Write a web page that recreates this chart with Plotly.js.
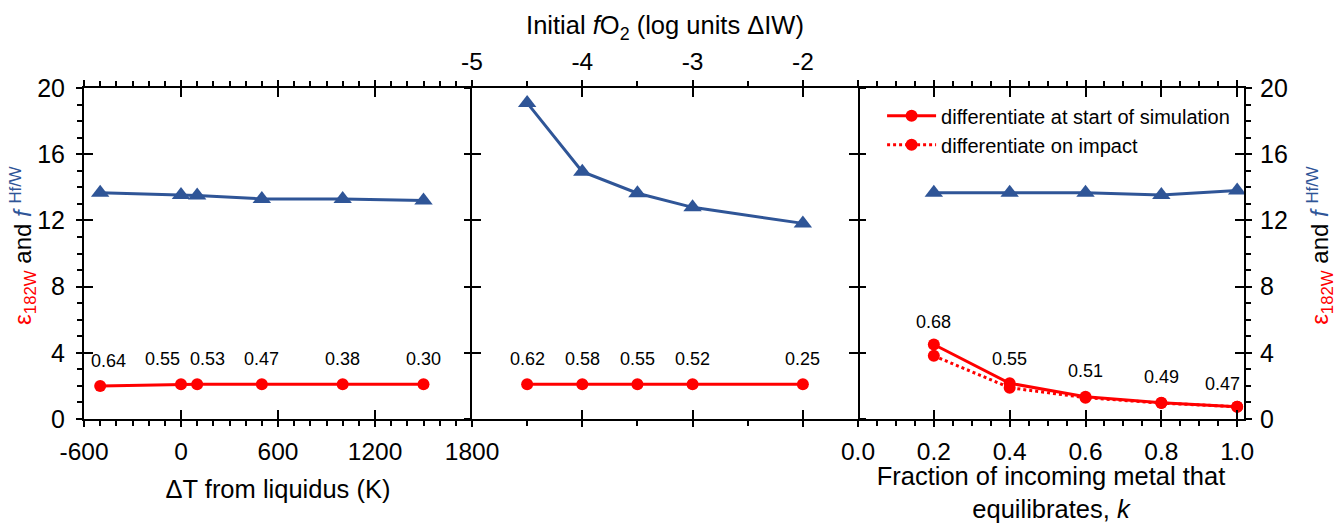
<!DOCTYPE html>
<html>
<head>
<meta charset="utf-8">
<script src="https://cdn.plot.ly/plotly-3.0.1.min.js"></script>
<style>html,body{margin:0;padding:0;background:#fff;}#chart{width:1340px;height:523px;}</style>
</head>
<body>
<div id="chart"></div>
<script>
// ---- data ----
const dT = [-500, 0, 100, 500, 1000, 1500];
const dT_fHfW = [13.67, 13.53, 13.5, 13.3, 13.3, 13.2];
const dT_eW = [2.0, 2.1, 2.1, 2.1, 2.1, 2.1];
const dT_labels = ['0.64', '0.55', '0.53', '0.47', '0.38', '0.30'];
const dT_ticks = [-600, 0, 600, 1200, 1800];
const dT_tickText = ['-600', '0', '600', '1200', '1800'];

const fO2 = [-4.5, -4, -3.5, -3, -2];
const fO2_fHfW = [19.1, 14.94, 13.64, 12.79, 11.82];
const fO2_eW = [2.1, 2.1, 2.1, 2.1, 2.1];
const fO2_labels = ['0.62', '0.58', '0.55', '0.52', '0.25'];
const fO2_ticks = [-5, -4, -3, -2];
const fO2_tickText = ['-5', '-4', '-3', '-2'];
const fO2_minorTicks = [-4.5, -3.5, -2.5];

const kFrac = [0.2, 0.4, 0.6, 0.8, 1.0];
const k_fHfW = [13.67, 13.67, 13.67, 13.53, 13.8];
const k_eW_start = [4.5, 2.16, 1.35, 0.98, 0.74];
const k_eW_impact = [3.82, 1.89, 1.29, 0.96, 0.74];
const k_labels = ['0.68', '0.55', '0.51', '0.49', '0.47'];

const legendNames = ['differentiate at start of simulation', 'differentiate on impact'];

// ---- styles ----
const RED = '#ff0000';
const BLUE = '#2f5597';
const FONT = 'Arial, "Liberation Sans", sans-serif';
const blueLine = {color: BLUE, width: 3};
const blueMarker = {symbol: 'triangle-up', size: 16, color: BLUE};
const redMarker = {symbol: 'circle', size: 12, color: RED};

function blue(x, y, xa, ya) {
  return {x, y, xaxis: xa, yaxis: ya, mode: 'lines+markers', line: blueLine, marker: blueMarker, showlegend: false, hoverinfo: 'x+y'};
}
function red(x, y, xa, ya, dash, name, show, grp) {
  return {x, y, xaxis: xa, yaxis: ya, mode: 'lines+markers', name: name || '',
    line: {color: RED, width: 3, dash: dash || 'solid'}, marker: redMarker,
    showlegend: !!show, legendgroup: grp || undefined, hoverinfo: 'x+y'};
}
function dummy(xa, ya) {
  return {x: [null], y: [null], xaxis: xa, yaxis: ya, mode: 'markers', showlegend: false, hoverinfo: 'skip'};
}

const traces = [
  blue(dT, dT_fHfW, 'x', 'y'),
  red(dT, dT_eW, 'x', 'y'),
  blue(fO2, fO2_fHfW, 'x2', 'y2'),
  red(fO2, fO2_eW, 'x2', 'y2'),
  blue(kFrac, k_fHfW, 'x3', 'y3'),
  red(kFrac, k_eW_impact, 'x3', 'y3', 'dot', legendNames[1], true, 'g2'),
  red(kFrac, k_eW_start, 'x3', 'y3', 'solid', legendNames[0], true, 'g1'),
  dummy('x4', 'y4'), dummy('x5', 'y5'), dummy('x6', 'y6')
];
traces[6].legendrank = 1;
traces[5].legendrank = 2;

// annotations from data
const annotations = [];
const lblShiftL = [8, -19, 10, 0, 0, 0];
dT.forEach((v, i) => annotations.push({x: v, y: dT_eW[i], xref: 'x', yref: 'y', text: dT_labels[i], showarrow: false, yshift: 25, xshift: lblShiftL[i]}));
fO2.forEach((v, i) => annotations.push({x: v, y: fO2_eW[i], xref: 'x2', yref: 'y2', text: fO2_labels[i], showarrow: false, yshift: 25}));
const lblShiftR = [0, 0, 0, 0, -15];
const lblYShiftR = [23, 24, 26, 26, 23];
kFrac.forEach((v, i) => annotations.push({x: v, y: k_eW_start[i], xref: 'x3', yref: 'y3', text: k_labels[i], showarrow: false, yshift: lblYShiftR[i], xshift: lblShiftR[i]}));
annotations.forEach(a => { a.font = {size: 18, color: '#000', family: FONT}; });

// y-axis titles (rotated text)
const yTitle = '<span style="color:' + RED + '">ε<sub>182W</sub></span> and <span style="color:' + BLUE + '"><i>f</i> <sup>Hf/W</sup></span>';
annotations.push({xref: 'paper', yref: 'paper', x: -0.0526, y: 0.526, text: yTitle, textangle: -90, showarrow: false,
  xanchor: 'center', yanchor: 'middle', font: {size: 24, family: FONT, color: '#000'}});
annotations.push({xref: 'paper', yref: 'paper', x: 1.0655, y: 0.526, text: yTitle, textangle: -90, showarrow: false,
  xanchor: 'center', yanchor: 'middle', font: {size: 24, family: FONT, color: '#000'}});

const D1 = 388 / 1160, D2 = 774 / 1160;
const TICKF = {size: 24.5, color: '#000', family: FONT};
const TICKFY = {size: 25, color: '#000', family: FONT};
const TITLEF = {size: 25.5, color: '#000', family: FONT};

const baseAx = {showgrid: false, zeroline: false, showline: true, linecolor: '#000', linewidth: 2,
  ticks: 'outside', ticklen: 6, tickwidth: 2, tickcolor: '#000', tickfont: TICKF, fixedrange: true};
const inAx = {showgrid: false, zeroline: false, showline: false, ticks: 'inside', ticklen: 9, tickwidth: 2,
  tickcolor: '#000', showticklabels: false, fixedrange: true};
const minorOut = (o) => Object.assign({ticks: 'outside', ticklen: 5, tickwidth: 2, tickcolor: '#000'}, o);

const layout = {
  width: 1340, height: 523,
  margin: {l: 84, r: 96, t: 88, b: 104},
  paper_bgcolor: '#fff', plot_bgcolor: 'rgba(0,0,0,0)',
  font: {family: FONT, color: '#000'},
  showlegend: true,
  legend: {x: 0.688, y: 0.975, xanchor: 'left', yanchor: 'top', bgcolor: 'rgba(0,0,0,0)',
    font: {size: 20, color: '#000', family: FONT}, itemwidth: 49, tracegroupgap: 5, traceorder: 'normal'},
  xaxis: Object.assign({}, baseAx, {domain: [0, D1], anchor: 'y', range: [-600, 1800], tickmode: 'array',
    tickvals: dT_ticks, ticktext: dT_tickText, ticklabelstandoff: 4,
    mirror: 'ticks', minor: minorOut({tick0: -600, dtick: 100}),
    title: {text: 'ΔT from liquidus (K)', font: TITLEF, standoff: 16}}),
  xaxis4: Object.assign({}, inAx, {overlaying: 'x', anchor: 'y', range: [-600, 1800], tickmode: 'array', tickvals: dT_ticks, mirror: 'ticks'}),
  xaxis2: Object.assign({}, baseAx, {domain: [D1, D2], anchor: 'y2', side: 'top', range: [-5, -1.5], tickmode: 'array',
    tickvals: fO2_ticks, ticktext: fO2_tickText, mirror: 'ticks', minor: minorOut({tickmode: 'array', tickvals: fO2_minorTicks}),
    title: {text: 'Initial <i>f</i>O<sub>2</sub> (log units ΔIW)', font: TITLEF, standoff: 6}}),
  xaxis5: Object.assign({}, inAx, {overlaying: 'x2', anchor: 'y2', side: 'top', range: [-5, -1.5], tickmode: 'array', tickvals: fO2_ticks, mirror: 'ticks'}),
  xaxis3: Object.assign({}, baseAx, {domain: [D2, 1], anchor: 'y3', range: [0, 1.018], tick0: 0, dtick: 0.2, tickformat: '.1f',
    ticklabelstandoff: 4, mirror: 'ticks', minor: minorOut({dtick: 0.05}),
    title: {text: 'Fraction of incoming metal that<br>equilibrates, <i>k</i>', font: TITLEF, standoff: 13}}),
  xaxis6: Object.assign({}, inAx, {overlaying: 'x3', anchor: 'y3', range: [0, 1.018], tick0: 0, dtick: 0.2, mirror: 'ticks'}),

  yaxis: Object.assign({}, baseAx, {domain: [0, 1], anchor: 'x', range: [0, 20], tick0: 0, dtick: 4, tickfont: TICKFY,
    ticklabelstandoff: 6, minor: minorOut({dtick: 1})}),
  yaxis4: Object.assign({}, inAx, {overlaying: 'y', anchor: 'x', range: [0, 20], tick0: 0, dtick: 4}),
  yaxis2: Object.assign({}, baseAx, {domain: [0, 1], anchor: 'x2', range: [0, 20], tick0: 0, dtick: 4, mirror: 'ticks', showticklabels: false}),
  yaxis5: Object.assign({}, inAx, {overlaying: 'y2', anchor: 'x2', range: [0, 20], tick0: 0, dtick: 4, mirror: 'ticks'}),
  yaxis3: Object.assign({}, baseAx, {domain: [0, 1], anchor: 'x3', side: 'right', range: [0, 20], tick0: 0, dtick: 4, tickfont: TICKFY,
    ticklabelstandoff: 3, minor: minorOut({dtick: 1})}),
  yaxis6: Object.assign({}, inAx, {overlaying: 'y3', anchor: 'x3', side: 'right', range: [0, 20], tick0: 0, dtick: 4}),
  annotations: annotations
};

Plotly.newPlot('chart', traces, layout, {displayModeBar: false, staticPlot: true});
</script>
</body>
</html>
